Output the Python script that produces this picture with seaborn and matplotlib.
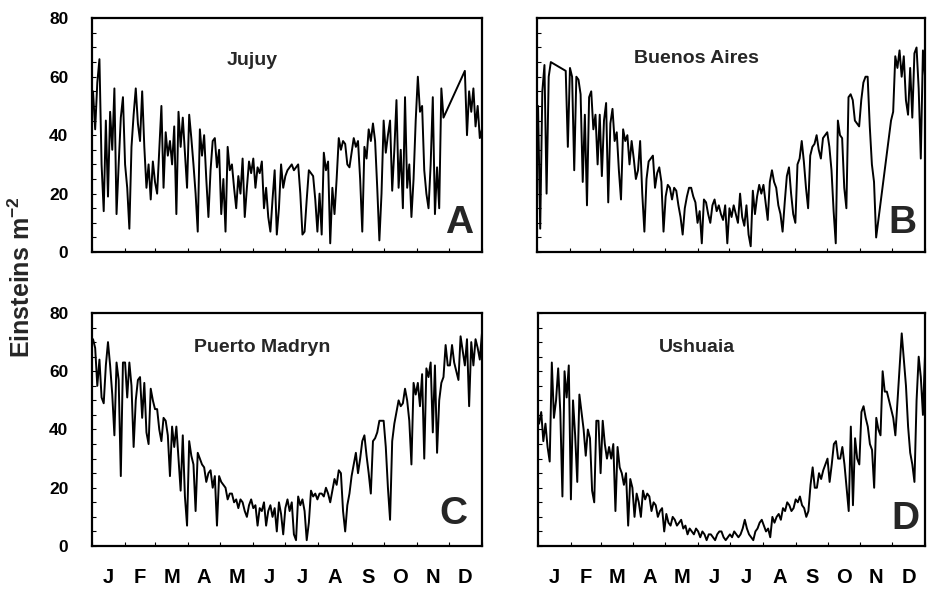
import numpy as np
import pandas as pd
import matplotlib
matplotlib.use("Agg")
import matplotlib.pyplot as plt
import seaborn as sns

# Daily PAR (Einsteins m-2), every other day of the year
# (day 1, 3, ..., 365). nan = no data, the line just bridges the gap.
day = np.arange(1, 366, 2)

jujuy = [55, 42, 58, 66, 30, 14, 45, 19, 48, 35, 56, 13, 30, 46, 53,
         30, 22, 8, 36, 47, 56, 44, 38, 55, 36, 22, 30, 18, 31, 24,
         20, 35, 50, 22, 41, 33, 38, 30, 43, 13, 48, 36, 46, 34, 22,
         47, 39, 30, 20, 7, 42, 33, 40, 25, 12, 28, 38, 39, 29, 35,
         13, 25, 7, 36, 28, 30, 22, 15, 26, 20, 32, 12, 22, 31, 27,
         32, 22, 29, 27, 31, 15, 22, 12, 7, 18, 28, 6, 15, 30, 22,
         26, 28, 29, 30, 28, 29, 30, 20, 6, 7, 18, 28, 27, 26, 18,
         7, 20, 6, 34, 28, 31, 3, 22, 13, 25, 39, 35, 38, 37, 30,
         29, 34, 39, 36, 38, 25, 7, 36, 32, 42, 38, 44, 38, 22, 4,
         20, 45, 34, 40, 45, 21, 35, 52, 22, 35, 15, 53, 22, 30, 12,
         25, 45, 60, 48, 50, 28, 20, 15, 30, 53, 13, 29, 15, 56, 46,
         np.nan, np.nan, np.nan, np.nan, np.nan, np.nan, np.nan, np.nan, np.nan, 62, 40, 55, 48, 56, 43,
         50, 39, 42]

buenos_aires = [50, 8, 55, 64, 20, 60, 65, np.nan, np.nan, np.nan, np.nan, np.nan, np.nan, 62, 36,
                63, 60, 28, 60, 59, 54, 24, 47, 16, 53, 55, 42, 47, 30, 47,
                26, 45, 51, 17, 44, 49, 38, 41, 28, 18, 42, 38, 40, 30, 38,
                32, 25, 28, 38, 20, 7, 25, 31, 32, 33, 22, 27, 29, 24, 7,
                19, 23, 22, 18, 22, 21, 16, 12, 6, 15, 19, 22, 22, 19, 17,
                10, 14, 3, 18, 17, 13, 10, 16, 18, 14, 16, 13, 11, 16, 3,
                15, 12, 16, 13, 10, 20, 12, 9, 16, 6, 2, 21, 13, 19, 23,
                20, 23, 17, 11, 24, 28, 24, 22, 16, 13, 7, 17, 26, 29, 20,
                13, 10, 30, 32, 38, 31, 22, 15, 33, 36, 37, 40, 35, 32, 39,
                40, 41, 36, 28, 14, 3, 45, 40, 39, 22, 15, 53, 54, 52, 45,
                44, 43, 52, 58, 60, 60, 43, 30, 24, 5, np.nan, np.nan, np.nan, np.nan, np.nan,
                np.nan, 45, 48, 67, 63, 69, 60, 67, 52, 47, 63, 46, 68, 70, 56,
                32, 69, 60]

puerto_madryn = [71, 68, 55, 64, 51, 49, 62, 70, 62, 52, 38, 63, 57, 24, 63,
                 63, 51, 63, 55, 34, 50, 57, 58, 44, 56, 39, 35, 54, 50, 47,
                 47, 40, 36, 44, 43, 38, 24, 41, 34, 41, 30, 19, 38, 17, 7,
                 36, 31, 28, 12, 32, 30, 28, 27, 22, 25, 26, 20, 24, 7, 24,
                 22, 21, 20, 16, 18, 18, 15, 16, 13, 16, 15, 12, 10, 14, 16,
                 13, 14, 7, 13, 12, 15, 7, 12, 14, 10, 13, 5, 15, 11, 4,
                 13, 16, 12, 15, 4, 2, 17, 14, 16, 12, 2, 8, 19, 17, 18,
                 16, 18, 18, 17, 20, 18, 15, 19, 23, 21, 26, 25, 12, 5, 14,
                 18, 24, 28, 32, 25, 30, 36, 38, 31, 25, 18, 36, 37, 39, 43,
                 43, 43, 34, 20, 9, 36, 42, 46, 50, 48, 49, 54, 50, 43, 28,
                 56, 52, 56, 48, 59, 30, 61, 58, 63, 39, 62, 32, 50, 56, 58,
                 69, 62, 62, 69, 63, 60, 57, 72, 67, 62, 71, 48, 70, 62, 71,
                 68, 64, 73]

ushuaia = [42, 46, 36, 42, 34, 29, 63, 44, 50, 61, 46, 17, 60, 51, 62,
           16, 50, 38, 22, 52, 46, 40, 31, 40, 37, 19, 15, 43, 43, 25,
           43, 35, 30, 34, 30, 35, 12, 34, 27, 25, 21, 25, 7, 23, 20,
           10, 18, 15, 10, 19, 16, 18, 17, 12, 15, 14, 10, 12, 13, 5,
           11, 8, 7, 10, 9, 7, 8, 9, 6, 7, 4, 6, 5, 4, 6,
           5, 3, 5, 4, 2, 4, 4, 3, 2, 4, 5, 5, 3, 2, 3,
           4, 3, 5, 4, 3, 4, 6, 9, 6, 4, 3, 2, 5, 6, 8,
           9, 7, 5, 6, 3, 10, 8, 10, 11, 9, 13, 12, 15, 14, 12,
           13, 16, 15, 17, 14, 13, 10, 12, 21, 27, 20, 20, 25, 23, 26,
           28, 30, 22, 28, 35, 36, 30, 30, 34, 28, 20, 12, 41, 14, 37,
           30, 28, 46, 48, 44, 41, 35, 33, 20, 44, 40, 38, 60, 53, 53,
           50, 47, 44, 38, np.nan, np.nan, 73, np.nan, 55, 41, 32, 28, 22, 50, 65,
           58, 45, 66]

stations = ["Jujuy", "Buenos Aires", "Puerto Madryn", "Ushuaia"]
letters = ["A", "B", "C", "D"]
months = ["J", "F", "M", "A", "M", "J", "J", "A", "S", "O", "N", "D"]
month_start = np.array([0, 31, 59, 90, 120, 151, 181, 212, 243, 273, 304, 334, 365])
yticks = [0, 20, 40, 60, 80]

sns.set_theme(style="ticks")
plt.rcParams["font.family"] = ["Liberation Sans", "DejaVu Sans"]
plt.rcParams["font.weight"] = "bold"
plt.rcParams["mathtext.fontset"] = "custom"
plt.rcParams["mathtext.bf"] = "Liberation Sans:bold"
plt.rcParams["mathtext.rm"] = "Liberation Sans:bold"
plt.rcParams["mathtext.default"] = "bf"

fig = plt.figure(figsize=(9.27, 5.89), dpi=100)
boxes = [[0.0992, 0.572, 0.4207, 0.397],
         [0.5793, 0.572, 0.4186, 0.397],
         [0.0992, 0.073, 0.4207, 0.3956],
         [0.5804, 0.073, 0.4175, 0.3956]]
name_pos = [(0.41, 0.82), (0.41, 0.83), (0.436, 0.85), (0.41, 0.85)]
letter_pos = [(0.977, 0.08), (0.979, 0.08), (0.962, 0.095), (0.985, 0.075)]

for i, series in enumerate([jujuy, buenos_aires, puerto_madryn, ushuaia]):
    ax = fig.add_axes(boxes[i])
    df = pd.DataFrame({"day": day, "par": series}).dropna()
    sns.lineplot(data=df, x="day", y="par", ax=ax, color="black",
                 lw=1.4, estimator=None, sort=True)
    ax.set_xlim(0, 365)
    ax.set_ylim(0, 80)
    ax.set_xlabel("")
    ax.set_ylabel("")

    for sp in ax.spines.values():
        sp.set_visible(True)
        sp.set_color("black")
        sp.set_linewidth(1.6)

    # y ticks inward, minor every 5
    ax.set_yticks(yticks)
    ax.set_yticks(np.arange(0, 81, 5), minor=True)
    ax.tick_params(axis="y", which="both", direction="in", length=3,
                   width=0.8, colors="black", pad=17, labelsize=12.5)
    if i % 2 == 1:
        ax.set_yticklabels([])

    # month boundaries as ticks, month letters centred in each month
    ax.set_xticks(month_start)
    ax.set_xticklabels([])
    ax.set_xticks((month_start[:-1] + month_start[1:]) / 2, minor=True)
    if i >= 2:
        ax.set_xticklabels(months, minor=True)
    else:
        ax.set_xticklabels([], minor=True)
    ax.tick_params(axis="x", which="major", direction="in", length=3,
                   width=0.8, colors="black")
    ax.tick_params(axis="x", which="minor", length=0, pad=16,
                   labelsize=14.5, colors="black")

    ax.text(*name_pos[i], stations[i], transform=ax.transAxes,
            ha="center", va="center", fontsize=14, fontweight="bold")
    ax.text(*letter_pos[i], letters[i], transform=ax.transAxes,
            ha="right", va="baseline", fontsize=28, fontweight="bold")

fig.text(0.024, 0.53, r"Einsteins m$^{-2}$", rotation=90, ha="center",
         va="center", fontsize=18, fontweight="bold")

fig.savefig("out.png", dpi=100)
